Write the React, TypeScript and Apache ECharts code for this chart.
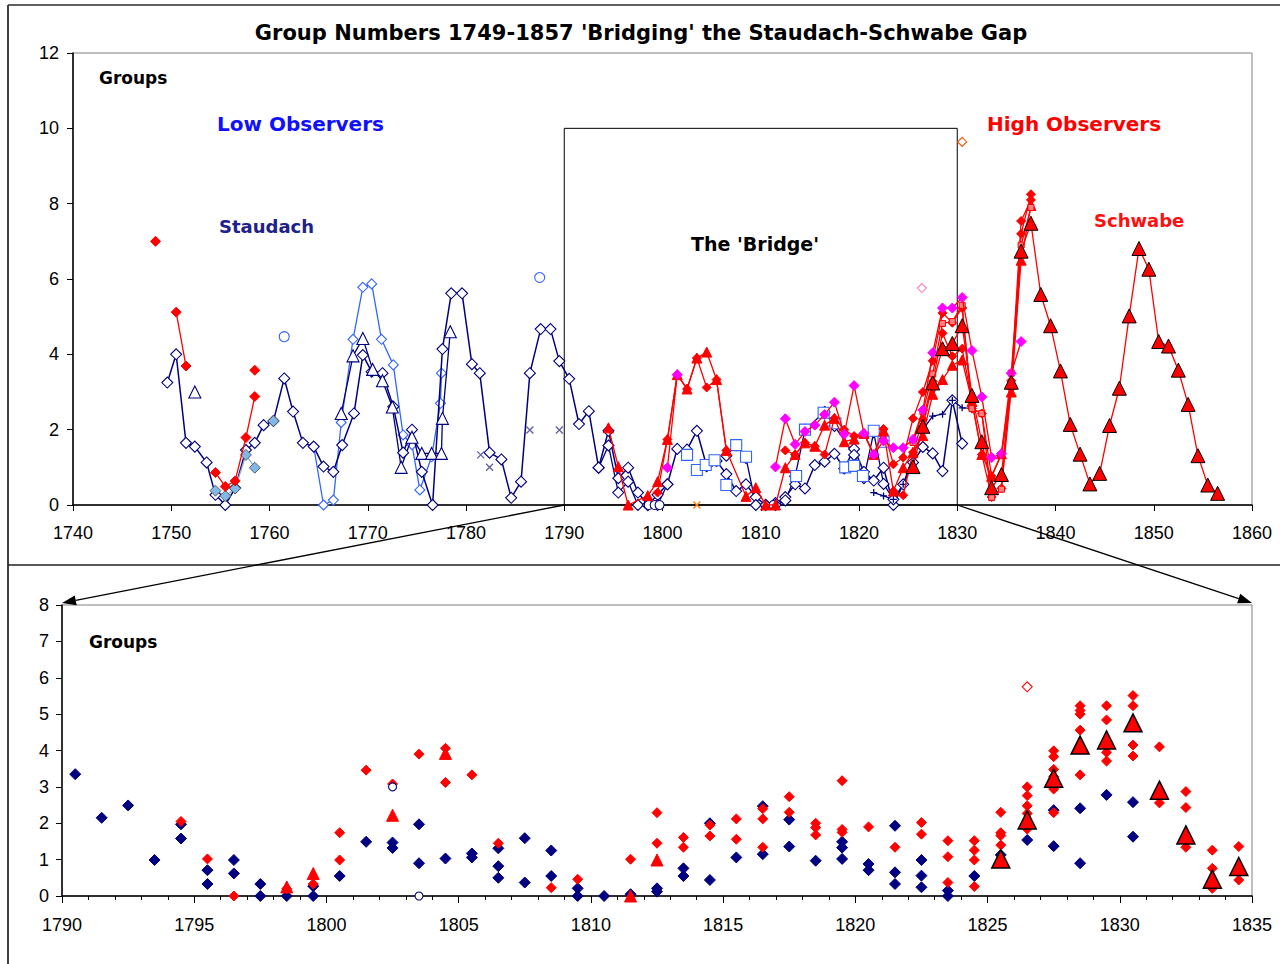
import React, { useEffect, useRef } from 'react';
import * as echarts from 'echarts';

const TITLE = "Group Numbers 1749-1857 'Bridging' the Staudach-Schwabe Gap";

// ---------- Top panel (1740-1860) ----------
const staudach: [number, number][] = [
  [1749.6, 3.25], [1750.5, 4.0], [1751.5, 1.65], [1752.4, 1.55], [1753.6, 1.13], [1754.5, 0.27], [1755.5, 0], [1756.5, 0.45],
  [1757.6, 1.46], [1758.5, 1.65], [1759.4, 2.12], [1760.4, 2.23], [1761.5, 3.36], [1762.4, 2.48], [1763.4, 1.65], [1764.5, 1.55],
  [1765.5, 1.02], [1766.5, 0.88], [1767.4, 1.59], [1768.6, 2.43], [1769.5, 3.98], [1770.4, 3.54], [1771.5, 3.5], [1772.6, 2.61],
  [1773.6, 1.39], [1774.5, 2.0], [1775.5, 0.88], [1776.6, 0], [1777.6, 4.14], [1778.5, 5.62], [1779.6, 5.62], [1780.6, 3.74],
  [1781.4, 3.5], [1782.4, 1.39], [1783.6, 1.21], [1784.6, 0.19], [1785.6, 0.62], [1786.5, 3.5], [1787.6, 4.67], [1788.6, 4.67],
  [1789.5, 3.82], [1790.5, 3.35], [1791.5, 2.15], [1792.5, 2.49], [1793.5, 0.99], [1794.5, 1.97], [1795.5, 0.71], [1796.5, 0.99],
  [1797.5, 0.33], [1798.5, 0], [1799.5, 0.27], [1800.5, 0.55], [1801.5, 1.49], [1802.5, 1.47], [1803.5, 1.97], [1804.5, 1.03],
  [1805.5, 1.17], [1806.5, 0.82], [1807.5, 0.37], [1808.5, 0.55], [1809.5, 0.21], [1810.5, 0], [1811.5, 0.05], [1812.5, 0.21],
  [1813.5, 0.55], [1814.5, 0.44], [1815.5, 1.06], [1816.5, 1.15], [1817.5, 1.36], [1818.5, 0.97], [1819.5, 1.49], [1820.5, 0.88],
  [1821.5, 0.65], [1822.5, 0.99], [1823.5, 0], [1824.5, 0.55], [1825.5, 1.13], [1826.5, 1.54], [1827.5, 1.37], [1828.5, 0.9],
  [1829.5, 2.78], [1830.5, 1.63],
];
const staudach2: [number, number][] = [
  [1793.5, 0.99], [1794.5, 1.58], [1795.5, 0.33], [1796.5, 0.62], [1797.5, 0], [1798.5, 0], [1799.5, 0], [1800.5, 0.55],
];
const staudach3: [number, number][] = [
  [1806.5, 1.31], [1807.5, 1.59], [1808.5, 1.25], [1809.5, 0], [1810.5, 0], [1811.5, 0], [1812.5, 0.12], [1813.5, 0.76],
  [1814.5, 2.0], [1816.5, 2.47], [1817.5, 2.1], [1819.5, 1.33], [1820.5, 0.71], [1821.5, 1.93], [1822.5, 0.56], [1823.5, 0.15],
];
const navyPlus: [number, number][] = [
  [1821.5, 0.33], [1822.5, 0.24], [1823.5, 0.15], [1824.5, 0.55], [1825.5, 1.3], [1826.5, 2.0], [1827.5, 2.36], [1828.5, 2.41],
  [1829.5, 2.78], [1830.5, 2.58], [1831.5, 2.57],
];
const navyTri: [number, number][] = [
  [1767.3, 2.43], [1768.5, 3.96], [1769.5, 4.42], [1770.5, 3.6], [1771.5, 3.3], [1772.5, 2.6], [1773.4, 1.0], [1774.5, 1.8],
  [1775.5, 1.37], [1776.5, 1.37], [1777.5, 1.37], [1777.6, 2.3], [1778.4, 4.6],
];
const navyTriLone: [number, number][] = [[1752.4, 3.0]];
const navyCross: [number, number][] = [[1781.5, 1.33], [1782.4, 1.0], [1786.5, 1.99], [1789.5, 1.99]];
const orangeCross: [number, number][] = [[1803.5, 0]];
const blueLine: [number, number][] = [
  [1764.5, 1.55], [1765.5, 0], [1766.5, 0.13], [1767.3, 2.19], [1768.5, 4.4], [1769.5, 5.78], [1770.4, 5.87], [1771.4, 4.4],
  [1772.6, 3.72], [1773.6, 1.86], [1774.5, 1.6], [1775.3, 0.4], [1776.5, 1.28], [1777.4, 2.7], [1777.5, 3.5],
];
const blueLone: [number, number][] = [[1761.5, 4.47], [1787.5, 6.04]];
const blueSquares: [number, number][] = [
  [1802.5, 1.33], [1803.5, 0.93], [1804.4, 1.06], [1805.3, 1.19], [1806.5, 0.53], [1807.5, 1.59], [1808.5, 1.28], [1813.6, 0.77],
  [1814.5, 2.0], [1816.4, 2.45], [1817.6, 2.17], [1818.6, 1.0], [1819.5, 1.04], [1820.4, 0.77], [1821.5, 1.97], [1822.5, 1.68],
];
const lightBlue: [number, number][] = [[1754.5, 0.38], [1755.5, 0.24], [1756.5, 0.44], [1757.6, 1.33], [1758.5, 0.99]];
const lightBlueLone: [number, number][] = [[1760.4, 2.23]];
const redEarlyA: [number, number][] = [[1750.5, 5.12], [1751.5, 3.69]];
const redEarlyB: [number, number][] = [[1754.5, 0.86], [1755.5, 0.49], [1756.5, 0.64], [1757.6, 1.79], [1758.5, 2.88]];
const redEarlyLone: [number, number][] = [[1748.4, 7.0], [1758.5, 3.58]];
const redTriLine: [number, number][] = [
  [1794.5, 2.05], [1795.5, 1.02], [1796.5, 0], [1798.5, 0.25], [1799.5, 0.62], [1800.5, 1.74], [1801.5, 3.46], [1802.5, 3.08],
  [1803.5, 3.9], [1804.5, 4.06], [1805.5, 3.33], [1806.5, 1.45], [1808.5, 0.23], [1809.5, 0.46], [1810.5, 0], [1811.5, 0],
  [1812.5, 0.99], [1813.5, 1.34], [1814.5, 1.65], [1815.5, 1.56], [1816.5, 2.12], [1817.5, 2.3], [1818.5, 1.68], [1819.5, 1.75],
  [1820.5, 1.9], [1821.5, 1.34], [1822.5, 1.97], [1823.5, 0.37], [1824.5, 0.99], [1825.5, 1.4], [1826.5, 1.84], [1827.5, 2.94],
  [1828.5, 3.33], [1829.5, 3.71], [1830.5, 3.85], [1831.5, 2.75], [1832.5, 1.34], [1833.5, 0.76], [1834.5, 1.36], [1835.5, 3.0],
  [1836.5, 6.5], [1837.5, 7.95],
];
const redDiamA: [number, number][] = [
  [1799.5, 0.33], [1800.5, 1.74], [1801.5, 3.46], [1802.5, 3.08], [1803.5, 3.9], [1804.5, 3.12], [1805.5, 3.33], [1806.5, 1.45],
];
const redDiamB: [number, number][] = [
  [1812.5, 1.45], [1813.5, 1.34], [1814.5, 1.65], [1815.5, 1.56], [1816.5, 1.34], [1817.5, 2.3], [1818.5, 2.0], [1819.5, 1.83],
  [1820.5, 1.9], [1821.5, 1.34], [1822.5, 2.02], [1823.5, 1.08], [1824.5, 1.26], [1825.5, 2.3], [1826.5, 3.0], [1827.5, 3.83],
  [1828.5, 5.1], [1829.5, 4.84], [1830.5, 5.23], [1831.5, 2.56], [1832.5, 2.43], [1833.5, 0.76], [1834.5, 1.36], [1835.5, 3.3],
  [1836.5, 7.54], [1837.5, 8.1],
];
const redDiamC: [number, number][] = [
  [1823.5, 0.37], [1824.5, 0.26], [1825.5, 1.4], [1826.5, 2.27], [1827.5, 3.28], [1828.5, 4.56], [1829.5, 3.95], [1830.5, 4.15],
  [1831.5, 2.75], [1832.5, 1.34], [1833.5, 0.21], [1834.5, 0.44], [1835.5, 3.1], [1836.5, 7.2], [1837.5, 8.25],
];
const redSquares: [number, number][] = [
  [1825.5, 1.66], [1826.5, 2.48], [1827.5, 3.48], [1828.5, 4.82], [1829.5, 4.87], [1830.5, 5.3], [1831.5, 2.56], [1832.5, 2.43],
  [1833.5, 0.2], [1834.5, 0.42], [1835.5, 3.5], [1836.5, 6.9], [1837.5, 7.9],
];
const magentaA: [number, number][] = [[1800.5, 0.99], [1801.5, 3.46]];
const magentaB: [number, number][] = [
  [1811.5, 1.01], [1812.5, 2.29], [1813.5, 1.61], [1814.5, 1.95], [1815.5, 2.12], [1816.5, 2.4], [1817.5, 2.73], [1818.5, 1.88],
  [1819.5, 3.17], [1820.5, 1.9], [1821.5, 1.34], [1822.5, 1.7], [1823.5, 1.52], [1824.5, 1.52], [1825.5, 1.74], [1826.5, 2.52],
  [1827.5, 4.04], [1828.5, 5.23], [1829.5, 5.23], [1830.5, 5.51], [1831.5, 4.1], [1832.5, 2.87], [1833.5, 1.26], [1834.5, 1.36],
  [1835.5, 3.5], [1836.5, 4.34],
];
const schwabe: [number, number][] = [
  [1825.5, 1.02], [1826.5, 2.09], [1827.5, 3.24], [1828.5, 4.15], [1829.5, 4.29], [1830.5, 4.76], [1831.5, 2.91], [1832.5, 1.68],
  [1833.5, 0.46], [1834.5, 0.81], [1835.5, 3.26], [1836.5, 6.74], [1837.5, 7.48], [1838.5, 5.59], [1839.5, 4.76], [1840.5, 3.56],
  [1841.5, 2.14], [1842.5, 1.35], [1843.5, 0.56], [1844.5, 0.84], [1845.5, 2.11], [1846.5, 3.1], [1847.5, 5.02], [1848.5, 6.81],
  [1849.5, 6.26], [1850.5, 4.34], [1851.5, 4.22], [1852.5, 3.58], [1853.5, 2.67], [1854.5, 1.31], [1855.5, 0.53], [1856.5, 0.31],
];
const pinkOpen: [number, number][] = [[1826.4, 5.76]];
const orangeOpen: [number, number][] = [[1830.5, 9.64]];
const navyOpenZero: [number, number][] = [[1798.6, 0], [1799.2, 0], [1799.7, 0], [1811.3, 0]];

// ---------- Bottom panel (1790-1835) ----------
const zoomNavy: [number, number][] = [
  [1790.5, 3.35], [1791.5, 2.15], [1792.5, 2.49], [1793.5, 0.99], [1794.5, 1.97], [1794.5, 1.58], [1795.5, 0.71], [1795.5, 0.33],
  [1796.5, 0.99], [1796.5, 0.62], [1797.5, 0.33], [1797.5, 0], [1798.5, 0], [1799.5, 0.27], [1799.5, 0], [1800.5, 0.55],
  [1801.5, 1.49], [1802.5, 1.47], [1802.5, 1.32], [1803.5, 1.97], [1803.5, 0.9], [1804.5, 1.03], [1805.5, 1.17], [1805.5, 1.06],
  [1806.5, 1.31], [1806.5, 0.82], [1806.5, 0.5], [1807.5, 1.59], [1807.5, 0.37], [1808.5, 1.25], [1808.5, 0.55], [1809.5, 0.21],
  [1809.5, 0], [1810.5, 0], [1811.5, 0.05], [1812.5, 0.21], [1812.5, 0.12], [1813.5, 0.76], [1813.5, 0.55], [1814.5, 2.0],
  [1814.5, 0.44], [1815.5, 1.06], [1816.5, 2.47], [1816.5, 1.15], [1817.5, 2.1], [1817.5, 1.36], [1818.5, 0.97], [1819.5, 1.49],
  [1819.5, 1.33], [1819.5, 1.02], [1820.5, 0.88], [1820.5, 0.71], [1821.5, 1.93], [1821.5, 0.65], [1821.5, 0.33], [1822.5, 0.99],
  [1822.5, 0.56], [1822.5, 0.24], [1823.5, 0.15], [1823.5, 0], [1824.5, 0.55], [1825.5, 1.13], [1826.5, 1.54], [1827.5, 2.36],
  [1827.5, 1.37], [1828.5, 2.41], [1828.5, 0.9], [1829.5, 2.78], [1830.5, 2.58], [1830.5, 1.63],
];
const zoomRed: [number, number][] = [
  [1794.5, 2.05], [1795.5, 1.02], [1796.5, 0], [1798.5, 0.2], [1799.5, 0.33], [1800.5, 1.74], [1800.5, 0.99], [1801.5, 3.46],
  [1802.5, 3.08], [1803.5, 3.9], [1804.5, 4.06], [1804.5, 3.12], [1805.5, 3.33], [1806.5, 1.45], [1808.5, 0.23], [1809.5, 0.46],
  [1811.5, 1.01], [1812.5, 2.29], [1812.5, 1.45], [1813.5, 1.61], [1813.5, 1.34], [1814.5, 1.95], [1814.5, 1.65], [1815.5, 2.12],
  [1815.5, 1.56], [1816.5, 2.4], [1816.5, 2.12], [1816.5, 1.34], [1817.5, 2.73], [1817.5, 2.3], [1818.5, 2.0], [1818.5, 1.88],
  [1818.5, 1.68], [1819.5, 3.17], [1819.5, 1.83], [1819.5, 1.75], [1820.5, 1.9], [1821.5, 1.34], [1822.5, 2.02], [1822.5, 1.7],
  [1823.5, 1.52], [1823.5, 1.08], [1823.5, 0.37], [1824.5, 1.52], [1824.5, 1.26], [1824.5, 0.99], [1824.5, 0.26], [1825.5, 2.3],
  [1825.5, 1.74], [1825.5, 1.66], [1825.5, 1.4], [1826.5, 3.0], [1826.5, 2.76], [1826.5, 2.48], [1826.5, 2.27], [1826.5, 1.84],
  [1827.5, 3.99], [1827.5, 3.83], [1827.5, 3.48], [1827.5, 3.28], [1827.5, 2.94], [1827.5, 2.29], [1828.5, 5.23], [1828.5, 5.1],
  [1828.5, 5.0], [1828.5, 4.56], [1828.5, 3.33], [1829.5, 5.23], [1829.5, 4.84], [1829.5, 3.95], [1829.5, 3.71], [1830.5, 5.51],
  [1830.5, 5.23], [1830.5, 4.15], [1830.5, 3.85], [1831.5, 4.1], [1831.5, 2.75], [1831.5, 2.56], [1832.5, 2.87], [1832.5, 2.43],
  [1832.5, 1.34], [1833.5, 1.26], [1833.5, 0.76], [1833.5, 0.21], [1834.5, 1.36], [1834.5, 0.44],
];
const zoomRedTri: [number, number][] = [[1798.5, 0.25], [1799.5, 0.62], [1802.5, 2.22], [1804.5, 3.92], [1811.5, 0], [1812.5, 0.99]];
const zoomNavyOpen: [number, number][] = [[1802.5, 3.0], [1803.5, 0]];
const zoomRedOpen: [number, number][] = [[1826.5, 5.75]];

const NAVY = '#000080';
const BLUE = '#3366FF';
const RED = '#FF0000';
const MAGENTA = '#FF00FF';
const PLUS = 'path://M5,0L5,10M0,5L10,5';
const CROSS = 'path://M0,0L10,10M10,0L0,10';
const FONT = 'Liberation Sans, Arial, sans-serif';
const BOLD = 'DejaVu Sans, Verdana, sans-serif';

// open ("empty") markers are drawn as white-filled shapes with a thin coloured outline
function sym(symbol: string) {
  if (symbol.indexOf('empty') === 0) return symbol.charAt(5).toLowerCase() + symbol.slice(6);
  return symbol;
}
function style(symbol: string, fill: string, border: string, bw: number) {
  if (symbol.indexOf('empty') === 0) return { color: '#fff', borderColor: border, borderWidth: 1.1 };
  if (symbol.indexOf('path://') === 0) return { color: 'none', borderColor: border, borderWidth: 1.3 };
  return { color: fill, borderColor: border, borderWidth: bw };
}
function line(data: [number, number][], color: string, symbol: string, size: number, fill: string, border: string, z = 2, lw = 1.3): any {
  return {
    type: 'line', xAxisIndex: 0, yAxisIndex: 0, data, symbol: sym(symbol), symbolSize: size, z,
    lineStyle: { color, width: lw },
    itemStyle: style(symbol, fill, border, 1),
  };
}
function pts(data: [number, number][], axis: number, symbol: string, size: number, fill: string, border: string, z = 3, bw = 1): any {
  return {
    type: 'scatter', xAxisIndex: axis, yAxisIndex: axis, data, symbol: sym(symbol), symbolSize: size, z,
    itemStyle: { ...style(symbol, fill, border, bw), opacity: 1 },
  };
}

export default function App() {
  const ref = useRef<HTMLDivElement>(null);
  useEffect(() => {
    const chart = echarts.init(ref.current!, null, { renderer: 'svg' });
    const axisLabel = { fontFamily: FONT, fontSize: 18, color: '#000', formatter: (v: number) => String(v) };
    const inZoom = (d: [number, number][]) => d.filter((p) => p[0] >= 1790 && p[0] <= 1835);
    const series: any[] = [
      line(blueLine, BLUE, 'emptyDiamond', 10, '#fff', BLUE, 2),
      line(staudach, NAVY, 'emptyDiamond', 11, '#fff', NAVY, 3, 1.5),
      line(staudach2, NAVY, 'emptyDiamond', 11, '#fff', NAVY, 3),
      line(staudach3, NAVY, 'emptyDiamond', 11, '#fff', NAVY, 3),
      line(navyTri, NAVY, 'emptyTriangle', 12, '#fff', NAVY, 3),
      line(navyPlus, NAVY, PLUS, 7, 'none', NAVY, 3),
      line(lightBlue, '#80B0E0', 'diamond', 11, '#80B8E8', '#606060', 3),
      line(redEarlyA, RED, 'diamond', 10, RED, RED, 4),
      line(redEarlyB, RED, 'diamond', 10, RED, RED, 4),
      line(redTriLine, RED, 'triangle', 10, RED, RED, 4),
      line(redDiamA, RED, 'diamond', 9, RED, RED, 4),
      line(redDiamB, RED, 'diamond', 9, RED, RED, 4),
      line(redDiamC, RED, 'diamond', 9, RED, RED, 4),
      line(redSquares, RED, 'rect', 6, '#FF8080', RED, 4),
      line(magentaA, RED, 'diamond', 10, MAGENTA, MAGENTA, 5),
      line(magentaB, RED, 'diamond', 10, MAGENTA, MAGENTA, 5),
      {
        ...line(schwabe, RED, 'triangle', 14, RED, '#000', 6),
        markArea: {
          silent: true,
          label: { show: false },
          itemStyle: { color: 'rgba(0,0,0,0)', borderColor: '#000', borderWidth: 1 },
          data: [[{ coord: [1790, 10] }, { coord: [1830, 0] }]],
        },
      },
      pts(navyTriLone, 0, 'emptyTriangle', 12, '#fff', NAVY),
      pts(navyCross, 0, CROSS, 7, 'none', '#6060A0'),
      pts(orangeCross, 0, CROSS, 7, 'none', '#FF8000'),
      pts(blueLone, 0, 'emptyCircle', 10, '#fff', BLUE),
      pts(blueSquares, 0, 'emptyRect', 11, '#fff', BLUE),
      pts(lightBlueLone, 0, 'diamond', 11, '#80B8E8', '#606060'),
      pts(redEarlyLone, 0, 'diamond', 10, RED, RED),
      pts(pinkOpen, 0, 'emptyDiamond', 9, '#fff', '#FF80C0'),
      pts(orangeOpen, 0, 'emptyDiamond', 9, '#fff', '#FF5000'),
      pts(navyOpenZero, 0, 'emptyCircle', 9, '#fff', NAVY),
      pts(zoomNavy, 1, 'diamond', 11, NAVY, NAVY, 3),
      pts(zoomRed, 1, 'diamond', 10, RED, RED, 4),
      pts(zoomRedTri, 1, 'triangle', 12, RED, RED, 5),
      pts(zoomNavyOpen, 1, 'emptyCircle', 8, '#fff', NAVY, 5),
      pts(zoomRedOpen, 1, 'emptyDiamond', 10, '#fff', RED, 5),
      pts(inZoom(schwabe), 1, 'triangle', 18, RED, '#000', 6, 1.5),
    ];

    const txt = (x: number, y: number, text: string, color: string, size: number, bold = true, align = 'left') => ({
      type: 'text', x, y, z: 100,
      style: { text, fill: color, font: `${bold ? 'bold ' : ''}${size}px ${bold ? BOLD : FONT}`, textAlign: align, textVerticalAlign: 'middle' },
    });

    chart.setOption({
      animation: false,
      backgroundColor: '#fff',
      grid: [
        { left: 73, top: 53, width: 1179, height: 452, show: true, borderColor: '#808080', borderWidth: 1, backgroundColor: 'transparent' },
        { left: 62, top: 605, width: 1190, height: 291, show: true, borderColor: '#808080', borderWidth: 1, backgroundColor: 'transparent' },
      ],
      xAxis: [
        {
          type: 'value', gridIndex: 0, min: 1740, max: 1860, interval: 10,
          axisLine: { lineStyle: { color: '#000', width: 1.5 } },
          axisTick: { show: true, length: 6, lineStyle: { color: '#000' } },
          axisLabel: { ...axisLabel, margin: 19 }, splitLine: { show: false },
        },
        {
          type: 'value', gridIndex: 1, min: 1790, max: 1835, interval: 5,
          axisLine: { lineStyle: { color: '#000', width: 1.5 } },
          axisTick: { show: true, length: 7, lineStyle: { color: '#000' } },
          minorTick: { show: true, splitNumber: 5, length: 4, lineStyle: { color: '#000' } },
          axisLabel: { ...axisLabel, margin: 20 }, splitLine: { show: false },
        },
      ],
      yAxis: [
        {
          type: 'value', gridIndex: 0, min: 0, max: 12, interval: 2,
          axisLine: { show: true, lineStyle: { color: '#000', width: 1.5 } },
          axisTick: { show: true, length: 6, lineStyle: { color: '#000' } },
          axisLabel: { ...axisLabel, margin: 14 }, splitLine: { show: false },
        },
        {
          type: 'value', gridIndex: 1, min: 0, max: 8, interval: 1,
          axisLine: { show: true, lineStyle: { color: '#000', width: 1.5 } },
          axisTick: { show: true, length: 6, lineStyle: { color: '#000' } },
          axisLabel: { ...axisLabel, margin: 13 }, splitLine: { show: false },
        },
      ],
      series,
    });

    const a0 = chart.convertToPixel({ xAxisIndex: 0, yAxisIndex: 0 }, [1790, 0]) as number[];
    const a1 = chart.convertToPixel({ xAxisIndex: 1, yAxisIndex: 1 }, [1790, 8]) as number[];
    const b0 = chart.convertToPixel({ xAxisIndex: 0, yAxisIndex: 0 }, [1830, 0]) as number[];
    const b1 = chart.convertToPixel({ xAxisIndex: 1, yAxisIndex: 1 }, [1835, 8]) as number[];
    const arrow = (from: number[], to: number[]) => {
      const tx = to[0], ty = to[1] - 2;
      const dx = tx - from[0], dy = ty - from[1];
      const len = Math.sqrt(dx * dx + dy * dy);
      const ux = dx / len, uy = dy / len;
      const L = 14, W = 5;
      const bx = tx - ux * L, by = ty - uy * L;
      return [
        { type: 'line', z: 100, shape: { x1: from[0], y1: from[1], x2: bx, y2: by }, style: { stroke: '#000', lineWidth: 1.3 } },
        {
          type: 'polygon', z: 100,
          shape: { points: [[tx, ty], [bx - uy * W, by + ux * W], [bx + uy * W, by - ux * W]] },
          style: { fill: '#000' },
        },
      ];
    };

    chart.setOption({
      graphic: [
        { type: 'line', z: 90, shape: { x1: 8, y1: 5, x2: 1280, y2: 5 }, style: { stroke: '#606060', lineWidth: 2 } },
        { type: 'line', z: 90, shape: { x1: 8, y1: 5, x2: 8, y2: 964 }, style: { stroke: '#404040', lineWidth: 2 } },
        { type: 'line', z: 90, shape: { x1: 8, y1: 565, x2: 1280, y2: 565 }, style: { stroke: '#202020', lineWidth: 1.5 } },
        ...arrow(a0, a1),
        ...arrow(b0, b1),
        txt(641, 33, TITLE, '#000', 21, true, 'center'),
        txt(99, 78, 'Groups', '#000', 17),
        txt(217, 124, 'Low Observers', '#1010FF', 20),
        txt(219, 226, 'Staudach', '#20208C', 18),
        txt(691, 244, "The 'Bridge'", '#000', 19),
        txt(987, 124, 'High Observers', '#FF0000', 20),
        txt(1094, 220, 'Schwabe', '#FF1010', 18),
        txt(89, 642, 'Groups', '#000', 17),
      ],
    });

    return () => chart.dispose();
  }, []);
  return <div ref={ref} style={{ position: 'absolute', left: 0, top: 0, width: 1280, height: 964 }} />;
}
